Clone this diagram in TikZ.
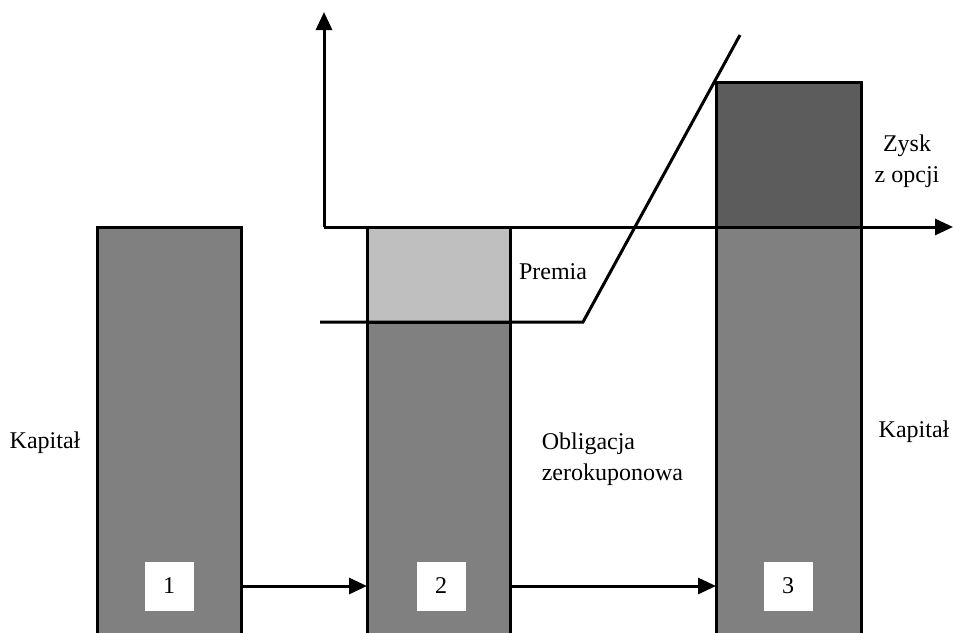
\documentclass[tikz,border=0pt]{standalone}
\usepackage{fontspec}
\setmainfont{Liberation Serif}
\usetikzlibrary{arrows.meta}
\definecolor{barmid}{gray}{0.5}
\definecolor{barlight}{gray}{0.75}
\definecolor{bardark}{gray}{0.36}
\begin{document}
\begin{tikzpicture}[x=1pt, y=-1pt, line width=3pt,
    bar/.style={draw, anchor=north west, inner sep=0pt, outer sep=0pt},
    numbox/.style={fill=white, minimum size=49pt, inner sep=0pt, font=\fontsize{24}{29}\selectfont},
    lbl/.style={font=\fontsize{24}{31}\selectfont, align=center},
    tip/.style={-{Triangle[length=18pt,width=16pt]}}]
  \useasboundingbox (0,0) rectangle (953,632);
  \clip (0,0) rectangle (953,632);

  % axes
  \coordinate (o) at (324,227);
  \coordinate (ytop) at (324,12);
  \coordinate (xend) at (953,227);
  \draw[tip] (o) -- (ytop);
  \draw[tip] (o) -- (xend);

  % bars
  \node[bar, fill=barmid, minimum width=144pt, minimum height=430pt] (cap1) at (97,227) {};
  \node[bar, fill=barlight, minimum width=143pt, minimum height=95pt] (prem) at (367,227) {};
  \node[bar, fill=barmid, minimum width=143pt, minimum height=330pt] (bond) at (367,322) {};
  \node[bar, fill=bardark, minimum width=145pt, minimum height=145pt] (gain) at (716,82) {};
  \node[bar, fill=barmid, minimum width=145pt, minimum height=430pt] (cap3) at (716,227) {};

  % payoff
  \coordinate (p0) at (320,322);
  \coordinate (strike) at (583,322);
  \coordinate (p1) at (740,35);
  \draw (p0) -- (strike) -- (p1);

  % steps
  \node[numbox] (n1) at (169,586) {1};
  \node[numbox] (n2) at (441,586) {2};
  \node[numbox] (n3) at (788,586) {3};
  \draw[tip] (cap1.east |- n1) -- (bond.west |- n1);
  \draw[tip] (bond.east |- n2) -- (cap3.west |- n2);

  % labels
  \node[lbl] (l1) at (45,443) {Kapitał};
  \node[lbl] (lprem) at (553,272) {Premia};
  \node[lbl, align=left, anchor=west] (lbond) at (537,459) {Obligacja\\zerokuponowa};
  \node[lbl] (l3) at (914,432) {Kapitał};
  \node[lbl] (lgain) at (907,161) {Zysk\\z opcji};
\end{tikzpicture}
\end{document}
